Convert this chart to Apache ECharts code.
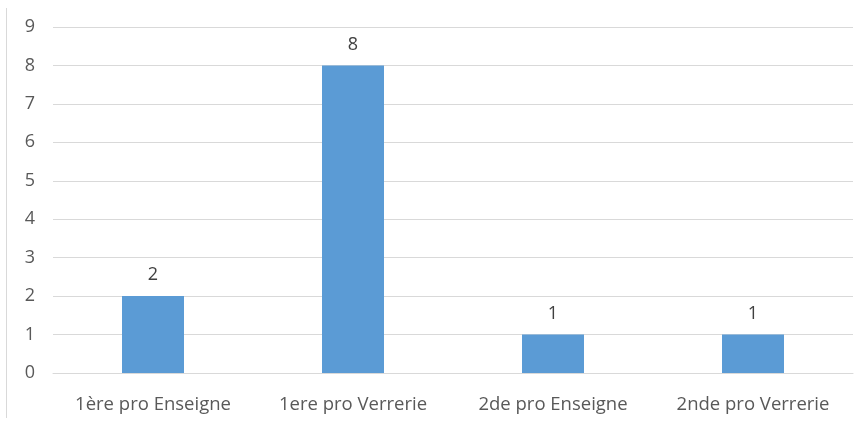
<!DOCTYPE html>
<html><head><meta charset="utf-8">
<script src="https://cdn.jsdelivr.net/npm/echarts@6/dist/echarts.min.js"></script>
<style>html,body{margin:0;padding:0;background:#fff}#c{width:864px;height:421px}</style>
</head><body><div id="c"></div>
<script>
const categories = ['1ère pro Enseigne', '1ere pro Verrerie', '2de pro Enseigne', '2nde pro Verrerie'];
const values = [2, 8, 1, 1];
const yTicks = [0, 1, 2, 3, 4, 5, 6, 7, 8, 9];

const chart = echarts.init(document.getElementById('c'), null, {renderer: 'canvas'});
const font = '"Open Sans", "Liberation Sans", sans-serif';
chart.setOption({
  animation: false,
  grid: {left: 53, right: 11, top: 27, bottom: 48},
  graphic: [{type: 'line', shape: {x1: 6.5, y1: 8, x2: 6.5, y2: 418}, style: {stroke: '#d9d9d9', lineWidth: 1}}],
  xAxis: {
    type: 'category', data: categories,
    axisLine: {show: true, lineStyle: {color: '#d9d9d9'}},
    axisTick: {show: false},
    axisLabel: {color: '#595959', fontSize: 18.5, fontFamily: font, margin: 22, interval: 0, hideOverlap: false}
  },
  yAxis: {
    type: 'value', min: yTicks[0], max: yTicks[yTicks.length - 1], interval: 1,
    axisLine: {show: false}, axisTick: {show: false},
    splitLine: {lineStyle: {color: '#d9d9d9', width: 1}},
    axisLabel: {color: '#595959', fontSize: 18, fontFamily: font, margin: 18}
  },
  series: [{
    type: 'bar', data: values, barWidth: 62,
    itemStyle: {color: '#5B9BD5'},
    label: {show: true, position: 'top', distance: 12, color: '#404040', fontSize: 18, fontFamily: font}
  }]
});
</script></body></html>
